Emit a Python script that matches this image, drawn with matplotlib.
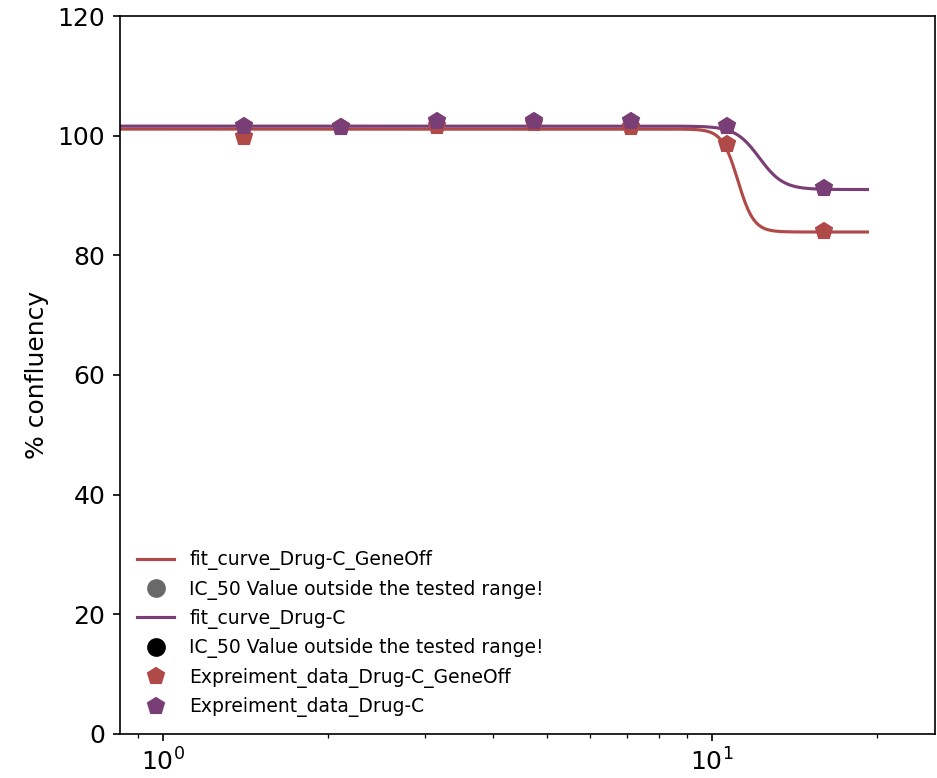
import matplotlib
matplotlib.use('Agg')
import matplotlib.pyplot as plt
import numpy as np

# concentrations (log spaced, factor 1.5)
conc = [1.405, 2.107, 3.16, 4.74, 7.11, 10.67, 16.0]
resp_geneoff = [99.8, 101.5, 101.7, 102.2, 101.5, 98.6, 84.0]
resp_drugc = [101.6, 101.4, 102.4, 102.4, 102.5, 101.7, 91.2]

# fitted 4PL parameters: bottom, top, ic50, hill
fit_geneoff = [83.9, 101.1, 11.15, 30.0]
fit_drugc = [91.0, 101.6, 12.2, 20.0]

# IC50 markers (outside the tested range -> nothing to draw)
ic50_geneoff_x, ic50_geneoff_y = [], []
ic50_drugc_x, ic50_drugc_y = [], []

col_geneoff = '#b04a48'
col_drugc = '#7a3e76'


def four_pl(x, bottom, top, ic50, hill):
    return bottom + (top - bottom) / (1 + (x / ic50) ** hill)


plt.rcParams['font.size'] = 12
fig = plt.figure(figsize=(937 / 150, 778 / 150), dpi=150)
ax = fig.add_axes([0.128, 0.0566, 0.87, 0.9228])

xfit = np.logspace(np.log10(0.835), np.log10(19.2), 400)

ax.plot(xfit, four_pl(xfit, *fit_geneoff), color=col_geneoff, lw=1.5,
        label='fit_curve_Drug-C_GeneOff')
ax.plot(ic50_geneoff_x, ic50_geneoff_y, 'o', color='dimgray', markersize=8,
        linestyle='none', label='IC_50 Value outside the tested range!')
ax.plot(xfit, four_pl(xfit, *fit_drugc), color=col_drugc, lw=1.5,
        label='fit_curve_Drug-C')
ax.plot(ic50_drugc_x, ic50_drugc_y, 'o', color='black', markersize=8,
        linestyle='none', label='IC_50 Value outside the tested range!')
ax.plot(conc, resp_geneoff, 'p', color=col_geneoff, markersize=8,
        linestyle='none', label='Expreiment_data_Drug-C_GeneOff')
ax.plot(conc, resp_drugc, 'p', color=col_drugc, markersize=8,
        linestyle='none', label='Expreiment_data_Drug-C')

ax.set_xscale('log')
ax.set_xlim(0.835, 25.5)
ax.set_ylim(0, 120)
ax.set_yticks([0, 20, 40, 60, 80, 100, 120])
ax.set_ylabel('% confluency')

ax.legend(loc='lower left', frameon=False, fontsize=9)

plt.savefig('out.png', dpi=150)
